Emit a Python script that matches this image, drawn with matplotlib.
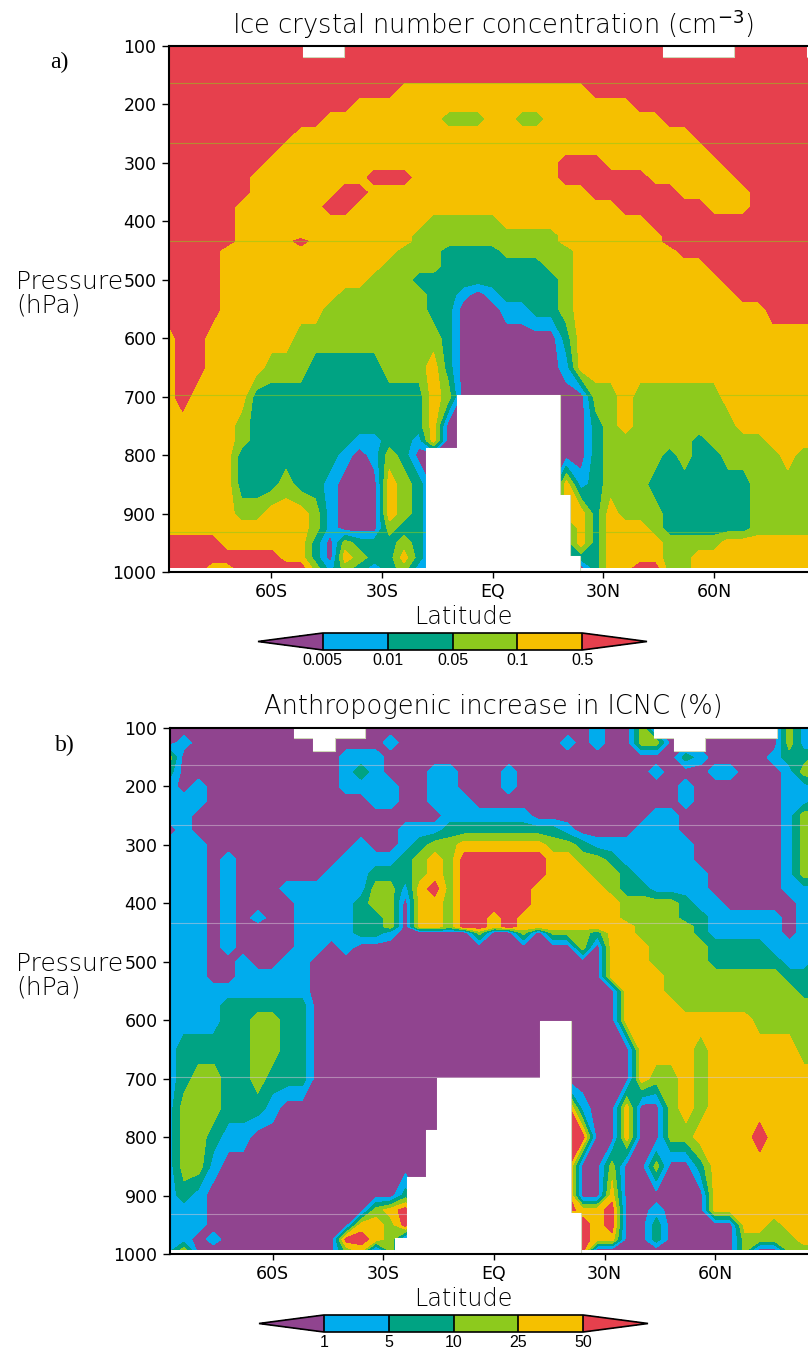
import numpy as np
import matplotlib
matplotlib.use('Agg')
import matplotlib.pyplot as plt

W, H = 808, 1349

# band colours, low to high
BAND_COLORS = ['#90448f', '#00aced', '#00a383', '#8dca1d', '#f5c000', '#e6404d']

LAT = [-88, -84, -80, -76, -72, -68, -64, -60, -56, -52, -48, -44, -40, -36, -32,
       -28, -24, -20, -16, -12, -8, -4, 0, 4, 8, 12, 16, 20, 24, 28,
       32, 36, 40, 44, 48, 52, 56, 60, 64, 68, 72, 76, 80, 84, 88]

# Each row is one pressure level, each digit the colour band (0-5) read at one LAT.
# Spaces are only there to make runs easier to count.
ICNC_P = [100, 150, 175, 200, 225, 250, 275, 300, 325, 350, 375, 400, 425, 434, 450, 475, 500,
          525, 550, 600, 650, 700, 750, 775, 800, 850, 900, 925, 950, 975, 993]
ICNC_BANDS = [
    "55555 55555 55555 55555 55555 55555 55555 55555 55555",
    "55555 55555 55555 55555 55555 55555 55555 55555 55555",
    "5555555555555555 4444444444444 5555555555555555",
    "5555555555555 4444444444444444444 5555555555555",
    "55555555555 44444444 333 44 33 44444444 55555555555",
    "555555555 444444444444444444444444444 555555555",
    "55555555 44444444444444444444444444444 55555555",
    "5555555 44444444444444444444 555 44444444 5555555",
    "555555 44444444 555 4444444444 555555 444444 555555",
    "555555 444444 55 444444444444444 555555 44444 55555",
    "55555 444444 55 444444444444444444 555555 444 55555",
    "55555 4444444444444 33333 4444444444 555555555555",
    "55555 444444444444 3333333333 4444444 55555555555",
    "55555 4444 5 4444444 3333333333 4444444 55555555555",
    "5555 444444444444 333 2222 33333 4444444 5555555555",
    "5555 44444444444 3333 2222222 33 444444444 55555555",
    "5555 4444444444 333 2222222222 3 4444444444 5555555",
    "5555 44444444 333333 22 1 0 1 2222 3 44444444444 555555",
    "5555 4444444 3333333 22 000 11 22 3 4444444444444 5555",
    "4 55 444444 3333333333 2 0000000 2 44444444444444444",
    "4 55 4444 333 22222 333 4 2 0000000 1 44444444444444444",
    "4 5 4444 222222222222 4 3 000000000 33 4 333333 4444444",
    "44444 3 222222222222 4 0000000000 2 3 4 3333333 444444",
    "44444 3 2222222 11 22 1 4 0000000000 2 333333 2 3333 4444",
    "44444 2222222 1 0 1 3 2 000000000000 2 3333 2 3 22 3333 4 33",
    "44444 222 3 22 1 000 4 3 2 000000000 4 1 2 333 2222222 33333",
    "44444 33 444 3 1 000 4 3 2 000000000 44 2 4 333 222222 33333",
    "4444444444 3 1 000 3 22 000000000 2 4 2 444 3 222222 33333",
    "5555 444444 2 0 3 222 3 2 000000000 2 4 2 4444 3333 4444444",
    "55555555 44 2 0 4 3 22 4 2 000000000 222 4444 33 444444444",
    "555 44 55555 3 1 3 2 1 2 3 1 00000000000 2 44 55 33 444444444",
]

INCREASE_P = [100, 125, 150, 175, 200, 225, 250, 275, 300, 325, 350, 375, 400, 425, 440, 450,
              475, 500, 525, 550, 575, 600, 650, 700, 750, 800, 850, 900, 925, 950, 975, 993]
INCREASE_BANDS = [
    "0000000000 0000000000 000000000 1 00 3 000000000 3 1 0",
    "0 1 0000000000000 1 00000000000 1 0 1 00 33 00000000 3 1 0",
    "3 00000000000 111 0000000000 0000000000 2 1 0000 1 22 3",
    "2 00000000000 1 2 1 000 11 000 1 000000000 1 000 11 000 1 33",
    "1 0 1 000000000 1111 00 11 000 1 00000000000 1 000000 11 2",
    "111 00000000000 11 00 111 00000000000000 1 000000 11 2",
    "11 00000000000000000 111111 00000000 11 0000000 1 33",
    "0 1 00000000000000 111 22222222 1 0000 111 0000000 1 33",
    "111 0000000000 1 00 1 2 33 444444 33 2 1111111 000000 1 33",
    "111 0 1 0000000 1111 2 3 4 3 555555 44 33 2 11111 000000 1 33",
    "111 0 1 000000 111 222 3 4 3 555555 444 33 2 11111 00000 1 33",
    "111 0 1 000 1 11111 33 1 4 5 3 55555 44444 3 22 1111 00000 111",
    "111 0 1 0000 1111 2 33 0 44 3 55555 444444 3333 2 11 00000 1 0",
    "111 0 1 0 1 00 1111 22 3 0 44 3 55 4 5 4444444 3333 22 11111 0 1 0",
    "111 0 1 0000 1111 22 3 0 44 3 55 4 5 44444444 3333 2 11111 0 1 0",
    "111 0 1 0000 1111 22 1 00000 3 00 3 0 3 33 2 44 3333 2 11111 0 1 0",
    "111 0 1 0000 11 0 1 000000000000000 3 0 444 3333 2222 1111",
    "111 00 1 00 11 0000000000 0000000000 444 3333 22222 11 2",
    "111 00 11111 0000000000 0000000000 4444 33333333 222",
    "1111111111 0000000000 00000000000 444 333333333 22",
    "1111 222222 0000000000 00000000000 4444 3333333333",
    "1111 22 33 22 0000000000 00000000000 444444444 33333",
    "1 22222 33 22 0000000000 000000000000 4444 3 444444 33",
    "1 2 33 22 3 222 0000000000 000000000000 4 33 4 3 44444444",
    "1 333 222 1 0000000000 000000000 5 1 00 4 00 3 4 3 44444444",
    "1 33 2 11 0000000000 00000000000 55 00 4 00 33 4444 5 4444",
    "1 33 1 0000000000 0000000000 000 5 00 3 00 3 00 2 44444444",
    "1 2 1 0000000000000 2 0000000000 5 00 4 00 0 000 44444444",
    "111 00000000000 3 4 5 0000000000 5 44 5 00 1 000 44444444",
    "111 0000000000 44 3 5 00000000000 5 4 5 00 2 00000 44 3 444",
    "11 0 1 00000000 55 4 3 000000000000 5 4 4 00 2 00000 3333 44",
    "1 3 0000000000 3 4 0 3 000000000000 5 0000000000 3 00 333",
]

# white blocks where there is no data: (lat from, lat to, pressure from, pressure to)
ICNC_GAPS = [(-51.5, -40.3, 100, 119), (46.1, 65.5, 100, 119), (85.3, 86.5, 100, 119),
             (-18.0, -9.6, 788, 1000), (-9.6, 18.2, 698, 1000), (18.2, 21.0, 869, 1000),
             (21.0, 23.7, 972, 1000)]
INCREASE_GAPS = [(-54.2, -34.9, 100, 117), (-49.0, -43.1, 100, 139), (43.4, 76.7, 100, 117),
                 (48.8, 57.2, 100, 139), (-26.7, -23.6, 973, 1000), (-23.6, -18.3, 869, 1000),
                 (-18.3, -15.4, 788, 1000), (-15.4, 12.5, 699, 1000), (12.5, 20.9, 602, 1000),
                 (20.9, 23.7, 930, 1000)]

THIN_LINES_P = [163, 266, 434, 698, 932]

P_TICKS = [100, 200, 300, 400, 500, 600, 700, 800, 900, 1000]
LAT_TICKS = [-60, -30, 0, 30, 60]
LAT_LABELS = ['60S', '30S', 'EQ', '30N', '60N']
LEVELS = [0.5, 1.5, 2.5, 3.5, 4.5]
ICNC_LABELS = ['0.005', '0.01', '0.05', '0.1', '0.5']
INCREASE_LABELS = ['1', '5', '10', '25', '50']

LABEL_FONT = 'DejaVu Sans'


def parse_bands(rows):
    return np.array([[int(c) for c in r.replace(' ', '')] for r in rows], dtype=float)


def px_axes(fig, x0, y0, x1, y1):
    return fig.add_axes([x0 / W, 1 - y1 / H, (x1 - x0) / W, (y1 - y0) / H])


def draw_panel(fig, box, xlim, p, rows, gaps, thin_color, thin_alpha, title, letter,
               letter_xy, tick_labels, cbar_box):
    x0, y0, x1, y1 = box
    ax = px_axes(fig, x0, y0, x1, y1)
    cs = ax.contourf(LAT, p, parse_bands(rows), levels=LEVELS, colors=BAND_COLORS,
                     extend='both', zorder=1)
    for thin_p in THIN_LINES_P:
        ax.axhline(thin_p, color=thin_color, alpha=thin_alpha, lw=0.8, zorder=2)
    # pale rim first, then white over it so only the outer rim of each gap is left
    for lat0, lat1, p0, p1 in gaps:
        ax.fill_between([lat0, lat1], p0, p1, facecolor='white', edgecolor='#cfd8b8',
                        lw=0.8, zorder=3)
    for lat0, lat1, p0, p1 in gaps:
        ax.fill_between([lat0, lat1], p0, p1, facecolor='white', edgecolor='none',
                        lw=0, zorder=4)

    ax.set_xlim(*xlim)
    ax.set_ylim(1000, 100)
    ax.set_yticks(P_TICKS)
    ax.set_xticks(LAT_TICKS)
    ax.set_xticklabels(LAT_LABELS)
    ax.tick_params(axis='y', direction='out', length=5, width=1.0, labelsize=12.5, pad=4)
    ax.tick_params(axis='x', direction='out', length=4.3, width=1.0, labelsize=12.5, pad=3.5)
    for lab in ax.get_xticklabels() + ax.get_yticklabels():
        lab.set_family(LABEL_FONT)
        lab.set_color('black')
    ax.spines['right'].set_visible(False)
    for side in ['left', 'top', 'bottom']:
        ax.spines[side].set_linewidth(1.5)
        ax.spines[side].set_zorder(5)

    fig.text(493 / W, 1 - (y0 - 22) / H, title, ha='center', va='center',
             fontsize=18.5, family=LABEL_FONT, fontweight='light', color='black')
    fig.text(463 / W, 1 - (y1 + 45) / H, 'Latitude', ha='center', va='center',
             fontsize=17.2, family=LABEL_FONT, fontweight='light', color='black')
    fig.text(16 / W, 1 - (y0 + 248) / H, 'Pressure\n(hPa)', ha='left', va='center',
             fontsize=18, family=LABEL_FONT, fontweight='light', linespacing=0.95)
    fig.text(letter_xy[0] / W, 1 - letter_xy[1] / H, letter, ha='left', va='center',
             fontsize=17, family='Liberation Serif')

    cax = px_axes(fig, *cbar_box)
    cb = fig.colorbar(cs, cax=cax, orientation='horizontal', extendfrac=0.25,
                      drawedges=True, ticks=LEVELS)
    cb.set_ticklabels(tick_labels)
    cb.ax.tick_params(length=0, labelsize=11.5, pad=2)
    for lab in cb.ax.get_xticklabels():
        lab.set_family('Liberation Sans')
    cb.outline.set_linewidth(1.2)
    cb.dividers.set_linewidth(1.2)
    cb.dividers.set_color('black')
    return ax


fig = plt.figure(figsize=(W / 100, H / 100), dpi=100)

draw_panel(fig, (169, 46, 808, 572), (-87.7, 85.5), ICNC_P, ICNC_BANDS, ICNC_GAPS,
           '#8dca1d', 0.55, 'Ice crystal number concentration (cm$^{-3}$)', 'a)', (50, 62),
           ICNC_LABELS, (258, 633, 647, 650))
draw_panel(fig, (170, 728, 808, 1254), (-87.8, 85.1), INCREASE_P, INCREASE_BANDS, INCREASE_GAPS,
           '#d8c8d8', 0.5, 'Anthropogenic increase in ICNC (%)', 'b)', (55, 745),
           INCREASE_LABELS, (259, 1315, 648, 1332))

fig.savefig('out.png', dpi=100)
